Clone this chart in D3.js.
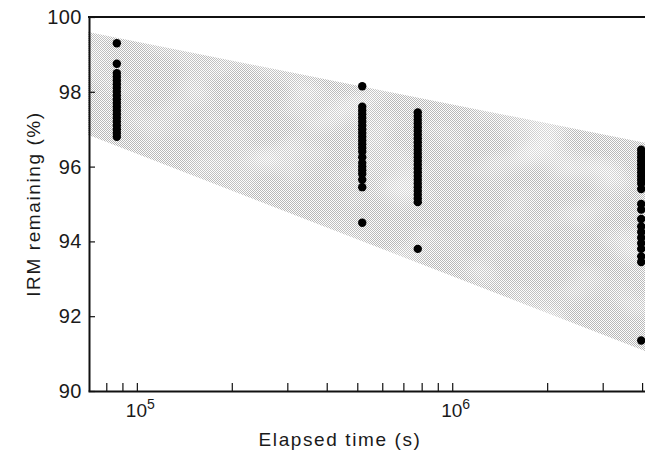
<!DOCTYPE html>
<html>
<head>
<meta charset="utf-8">
<script src="https://cdn.jsdelivr.net/npm/d3@7/dist/d3.min.js"></script>
<style>
  html, body { margin: 0; padding: 0; background: #fff; }
  svg { display: block; }
  text { font-family: "Liberation Sans", Arial, sans-serif; fill: #1a1a1a; }
</style>
</head>
<body>
<svg id="chart" width="645" height="454"></svg>
<script>
// Measurement epochs (s) and IRM remaining (%) at each epoch
const times = [86400, 518400, 777600, 3974400];
const irm1 = [99.3, 98.75, 98.5, 98.4, 98.3, 98.2, 98.1, 98.0, 97.9, 97.8, 97.7, 97.6, 97.5, 97.4, 97.3, 97.2, 97.1, 97.0, 96.9, 96.8];
const irm2 = [98.15, 97.6, 97.5, 97.4, 97.3, 97.2, 97.1, 97.0, 96.9, 96.8, 96.7, 96.6, 96.5, 96.4, 96.25, 96.1, 96.0, 95.9, 95.8, 95.65, 95.45, 94.5];
const irm3 = [97.45, 97.35, 97.25, 97.15, 97.05, 96.95, 96.85, 96.75, 96.65, 96.55, 96.45, 96.35, 96.25, 96.15, 96.05, 95.95, 95.85, 95.75, 95.65, 95.55, 95.45, 95.35, 95.25, 95.15, 95.05, 93.8];
const irm4 = [96.45, 96.35, 96.25, 96.15, 96.05, 95.95, 95.85, 95.75, 95.65, 95.55, 95.4, 95.0, 94.85, 94.6, 94.4, 94.25, 94.1, 93.95, 93.8, 93.6, 93.45, 91.35];
const irmSeries = [irm1, irm2, irm3, irm4];

// Shaded envelope: upper and lower limits at the ends of the time range
const bandTime = [7e4, 4.3e6];
const bandUpper = [99.6, 96.6];
const bandLower = [96.85, 91.0];

// Axis ticks
const yTicks = [90, 92, 94, 96, 98, 100];
const xTicks = [8e4, 9e4, 1e5, 2e5, 3e5, 4e5, 5e5, 6e5, 7e5, 8e5, 9e5, 1e6, 2e6, 3e6, 4e6];
const xLabels = [{ v: 1e5, base: "10", exp: "5" }, { v: 1e6, base: "10", exp: "6" }];

const svg = d3.select("#chart");
const plotLeft = 88, plotRight = 652, plotTop = 17, plotBottom = 391;

const x = d3.scaleLog().domain([7e4, 4.3e6]).range([plotLeft, plotRight]);
const y = d3.scaleLinear().domain([90, 100]).range([plotBottom, plotTop]);

// Halftone fill for the envelope, with a soft mottled overlay
const defs = svg.append("defs");
const pat = defs.append("pattern").attr("id", "dither")
  .attr("patternUnits", "userSpaceOnUse").attr("width", 2).attr("height", 2);
pat.append("rect").attr("width", 2).attr("height", 2).attr("fill", "#fdfdfd");
pat.append("rect").attr("x", 0).attr("y", 0).attr("width", 1).attr("height", 1).attr("fill", "#b8b8b8");
pat.append("rect").attr("x", 1).attr("y", 1).attr("width", 1).attr("height", 1).attr("fill", "#b8b8b8");

const mottle = defs.append("filter").attr("id", "mottle")
  .attr("x", 0).attr("y", 0).attr("width", 1).attr("height", 1);
mottle.append("feTurbulence").attr("type", "fractalNoise").attr("baseFrequency", "0.014 0.022")
  .attr("numOctaves", 2).attr("seed", 7).attr("result", "noise");
mottle.append("feColorMatrix").attr("in", "noise").attr("type", "matrix")
  .attr("values", "0 0 0 0 1  0 0 0 0 1  0 0 0 0 1  2.2 0 0 0 -1.0");

const bandData = bandTime.map((t, i) => ({ t, lo: bandLower[i], hi: bandUpper[i] }));
const area = d3.area().x(d => x(d.t)).y0(d => y(d.lo)).y1(d => y(d.hi));
defs.append("clipPath").attr("id", "bandClip").append("path").datum(bandData).attr("d", area);

svg.append("path").datum(bandData).attr("d", area).attr("fill", "url(#dither)");
svg.append("rect").attr("x", plotLeft).attr("y", plotTop).attr("width", plotRight - plotLeft)
  .attr("height", plotBottom - plotTop).attr("clip-path", "url(#bandClip)")
  .attr("filter", "url(#mottle)").attr("opacity", 0.6);

// Data points
const pts = [];
irmSeries.forEach((vals, i) => vals.forEach(v => pts.push({ t: times[i], v })));
svg.append("g").selectAll("circle").data(pts).join("circle")
  .attr("cx", d => x(d.t)).attr("cy", d => y(d.v)).attr("r", 4.2).attr("fill", "#000");

// Y axis
const yAxis = d3.axisLeft(y).tickValues(yTicks).tickSize(-6).tickSizeOuter(0).tickPadding(7)
  .tickFormat(d3.format("d"));
const gy = svg.append("g").attr("transform", `translate(${plotLeft + 1},0)`).call(yAxis);
gy.select(".domain").attr("stroke", "#111").attr("stroke-width", 2);
gy.selectAll(".tick line").attr("stroke", "#111").attr("stroke-width", 1.2);
gy.selectAll(".tick text").attr("font-size", 20).attr("letter-spacing", 0.5).attr("fill", "#1a1a1a");

// X axis
const xAxis = d3.axisBottom(x).tickValues(xTicks).tickSize(-8).tickSizeOuter(0).tickPadding(10)
  .tickFormat(() => "");
const gx = svg.append("g").attr("transform", `translate(0,${plotBottom})`).call(xAxis);
gx.select(".domain").attr("stroke", "#111").attr("stroke-width", 2);
gx.selectAll(".tick line").attr("stroke", "#111").attr("stroke-width", 1.2);

// Power-of-ten labels: the mantissa "10" is centred on the tick, exponent raised
const lab = gx.selectAll(".xlab").data(xLabels).join("text")
  .attr("class", "xlab")
  .attr("x", d => x(d.v) - 11).attr("y", 26)
  .attr("text-anchor", "start").attr("font-size", 19);
lab.append("tspan").text(d => d.base);
lab.append("tspan").attr("dy", -8).attr("font-size", 14).text(d => d.exp);

// Top frame line
svg.append("line").attr("x1", plotLeft).attr("x2", 645).attr("y1", plotTop).attr("y2", plotTop)
  .attr("stroke", "#111").attr("stroke-width", 2);

// Axis titles
svg.append("text").attr("x", 340).attr("y", 446).attr("text-anchor", "middle")
  .attr("font-size", 19).attr("letter-spacing", 1.6).text("Elapsed time (s)");
svg.append("text").attr("transform", "translate(40,204) rotate(-90)").attr("text-anchor", "middle")
  .attr("font-size", 19).attr("letter-spacing", 1.6).text("IRM remaining (%)");
</script>
</body>
</html>
